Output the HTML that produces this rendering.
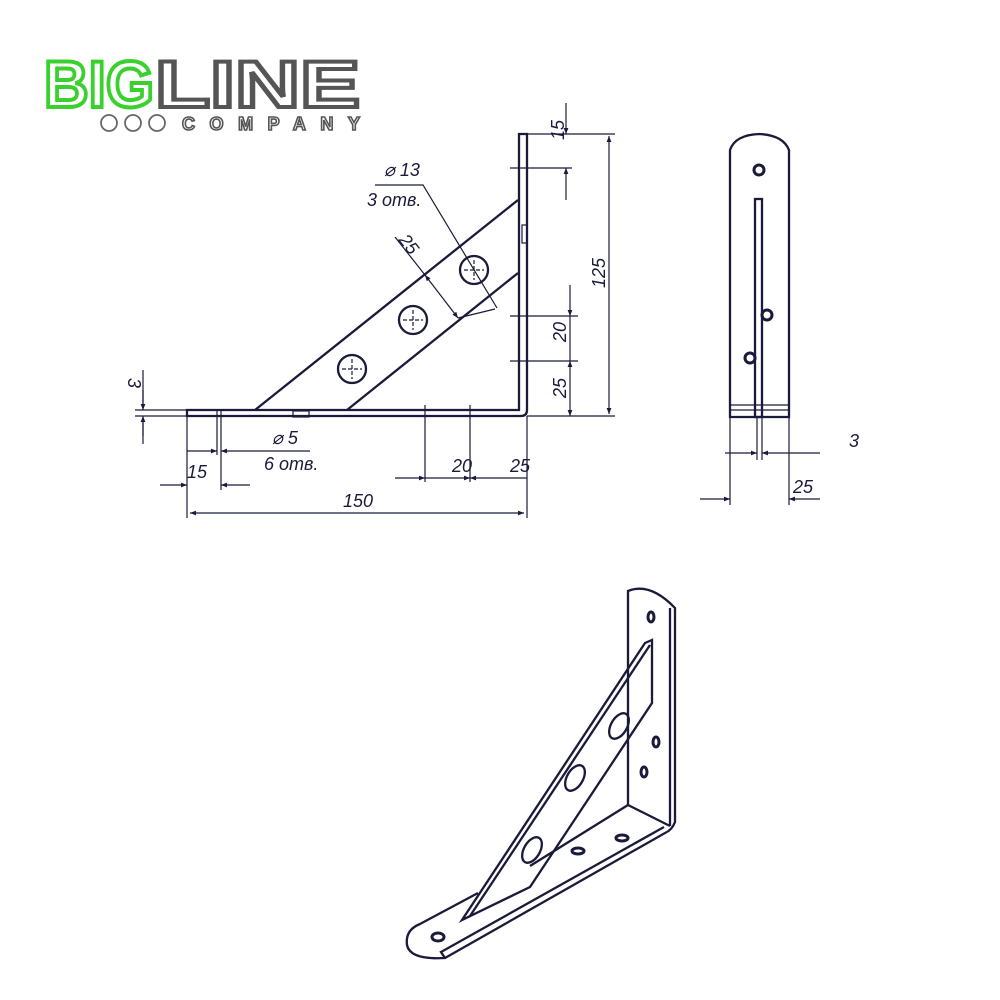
<!DOCTYPE html>
<html><head><meta charset="utf-8"><style>
html,body{margin:0;padding:0;background:#fff;width:1000px;height:1000px;overflow:hidden}
svg{display:block}
.l{stroke:#1a1a3a;fill:none;stroke-width:2.3}
.t{stroke:#1a1a3a;fill:none;stroke-width:1.2}
.tx{font-family:"Liberation Sans",sans-serif;font-style:italic;font-size:18px;fill:#1a1a3a}
</style></head><body>
<svg width="1000" height="1000" viewBox="0 0 1000 1000" xmlns="http://www.w3.org/2000/svg">
<defs>
<marker id="a" viewBox="0 0 10 10" refX="10" refY="5" markerWidth="10" markerHeight="6" orient="auto-start-reverse" markerUnits="userSpaceOnUse"><path d="M0,1 L10,5 L0,9 z" fill="#1a1a3a"/></marker>
</defs>
<!-- logo -->
<text x="44" y="107" font-family="Liberation Sans,sans-serif" font-weight="bold" font-size="66" fill="#fff" stroke="#3ad12e" stroke-width="4" textLength="110" lengthAdjust="spacingAndGlyphs">BIG</text>
<text x="155" y="107" font-family="Liberation Sans,sans-serif" font-weight="bold" font-size="66" fill="#fff" stroke="#555" stroke-width="4" textLength="205" lengthAdjust="spacingAndGlyphs">LINE</text>
<circle cx="109" cy="123" r="8" fill="none" stroke="#666" stroke-width="1.8"/>
<circle cx="133" cy="123" r="8" fill="none" stroke="#666" stroke-width="1.8"/>
<circle cx="157" cy="123" r="8" fill="none" stroke="#666" stroke-width="1.8"/>
<text x="182" y="130" font-family="Liberation Sans,sans-serif" font-weight="bold" font-size="18" fill="#fff" stroke="#555" stroke-width="1.6" textLength="178" lengthAdjust="spacing">COMPANY</text>

<!-- main view -->
<path class="l" d="M187,410 H519 V134 H527 V410 Q527,416 521,416 H187 Z"/>
<path class="l" d="M255,410 L518,200 M347,410 L518,273"/>
<rect class="t" x="293" y="411" width="16" height="6"/>
<rect class="t" x="522" y="225" width="5" height="18"/>
<circle class="l" cx="474" cy="270" r="14"/><circle class="l" cx="413" cy="320" r="14"/><circle class="l" cx="352" cy="369" r="14"/>
<path class="t" d="M464,270h20M474,260v20M403,320h20M413,310v20M342,369h20M352,359v20" stroke-dasharray="4 2"/>
<!-- left 3 -->
<path class="t" d="M143,370V408M143,418V444M135,410H187M135,416H187" />
<path class="t" d="M143,390V410" marker-end="url(#a)"/><path class="t" d="M143,436V416" marker-end="url(#a)"/>
<text class="tx" transform="translate(128,378) rotate(90)">3</text>
<!-- bottom dims -->
<path class="t" d="M187,416V518M217,410V455M221,410V490M527,416V518M425,405V482M470,405V482"/>
<path class="t" d="M160,485H187" marker-end="url(#a)"/><path class="t" d="M250,485H221" marker-end="url(#a)"/>
<path class="t" d="M187,451H217" marker-end="url(#a)"/><path class="t" d="M310,451H221" marker-end="url(#a)"/>
<path class="t" d="M395,478H425" marker-end="url(#a)"/><path class="t" d="M527,478H470" marker-end="url(#a)"/>
<path class="t" d="M425,478H470" marker-end="url(#a)"/>
<path class="t" d="M190,513H524" marker-start="url(#a)" marker-end="url(#a)"/>
<text class="tx" x="187" y="478">15</text>
<text class="tx" x="272" y="444">⌀ 5</text>
<text class="tx" x="264" y="470">6 отв.</text>
<text class="tx" x="452" y="472">20</text>
<text class="tx" x="510" y="472">25</text>
<text class="tx" x="343" y="507">150</text>
<!-- right dims -->
<path class="t" d="M527,134H615M527,416H615M510,168H572M510,316H578M510,361H578"/>
<path class="t" d="M566,103V134" marker-end="url(#a)"/><path class="t" d="M566,200V168" marker-end="url(#a)"/>
<path class="t" d="M570,285V316" marker-end="url(#a)"/><path class="t" d="M570,361V416" marker-start="url(#a)" marker-end="url(#a)"/>
<path class="t" d="M570,316V361"/>
<path class="t" d="M609,136V414" marker-start="url(#a)" marker-end="url(#a)"/>
<text class="tx" transform="translate(564,140) rotate(-90)">15</text>
<text class="tx" transform="translate(566,342) rotate(-90)">20</text>
<text class="tx" transform="translate(566,398) rotate(-90)">25</text>
<text class="tx" transform="translate(605,288) rotate(-90)">125</text>
<!-- rib 25 dim & leader -->
<path class="t" d="M395,237L425,275M495,309L458,318" />
<path class="t" d="M425,275L458,318" marker-start="url(#a)" marker-end="url(#a)"/>
<text class="tx" transform="translate(398,240) rotate(52)">25</text>
<path class="t" d="M497,308L423,185H375"/>
<text class="tx" x="384" y="176">⌀ 13</text>
<text class="tx" x="367" y="206">3 отв.</text>

<!-- side view -->
<path class="l" d="M730,417V150Q735,135 759,134Q783,135 789,150V417Z"/>
<path class="t" d="M730,405H789M730,410H789"/>
<rect class="l" x="755" y="199" width="7" height="218"/>
<circle cx="759" cy="170" r="5" fill="none" stroke="#1a1a3a" stroke-width="3"/>
<circle cx="767" cy="315" r="5" fill="none" stroke="#1a1a3a" stroke-width="3"/>
<circle cx="750" cy="358" r="5" fill="none" stroke="#1a1a3a" stroke-width="3"/>
<path class="t" d="M730,417V505M789,417V505M757,417V460M762,417V460"/>
<path class="t" d="M725,453H757" marker-end="url(#a)"/><path class="t" d="M820,453H762" marker-end="url(#a)"/>
<path class="t" d="M700,499H730" marker-end="url(#a)"/><path class="t" d="M820,499H789" marker-end="url(#a)"/>
<text class="tx" x="849" y="447">3</text>
<text class="tx" x="793" y="493">25</text>

<!-- isometric -->
<g class="l" stroke-width="2">
<path d="M628,805V591Q650,582 675,608V822Q672,830 665,833L445,958Q410,960 407,945Q405,930 420,924L478,893"/>
<path d="M670,608V826"/>
<path d="M628,805L670,826"/>
<path d="M628,805L530,866"/>
<path d="M445,958L441,952L664,827"/>
<path d="M462,920L645,643L652,640V703L530,887L462,920Z"/>
<path d="M470,916L650,645"/>
<ellipse cx="619" cy="726" rx="8" ry="14" transform="rotate(30 619 726)"/>
<ellipse cx="575" cy="778" rx="8" ry="14" transform="rotate(30 575 778)"/>
<ellipse cx="532" cy="850" rx="8" ry="14" transform="rotate(30 532 850)"/>
</g>
<g fill="none" stroke="#1a1a3a" stroke-width="3">
<ellipse cx="651" cy="617" rx="3" ry="5"/><ellipse cx="656" cy="742" rx="3" ry="5"/><ellipse cx="644" cy="772" rx="3" ry="5"/>
<ellipse cx="578" cy="851" rx="6" ry="3"/><ellipse cx="622" cy="838" rx="6" ry="3"/><ellipse cx="438" cy="937" rx="6" ry="4"/>
</g>
</svg>
</body></html>
